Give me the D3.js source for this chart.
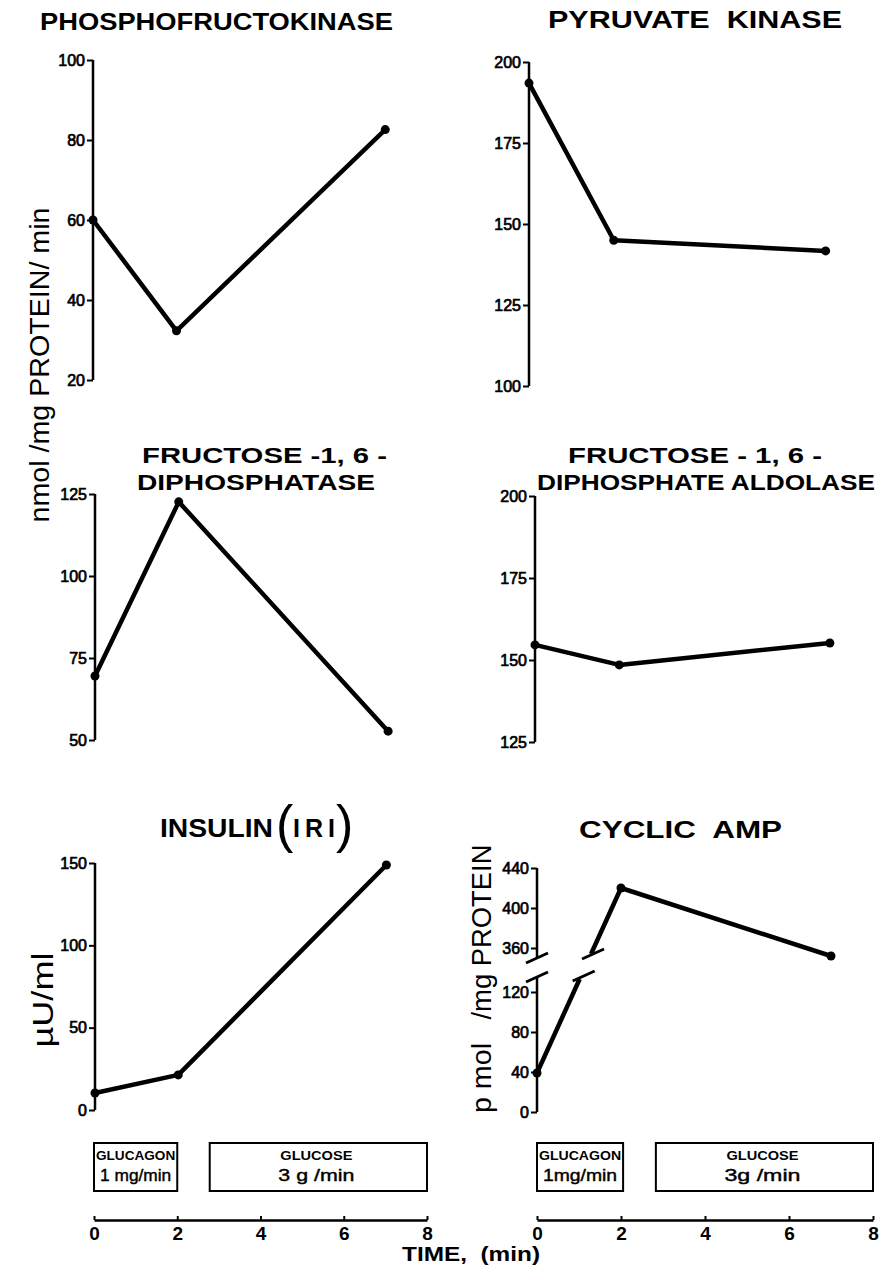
<!DOCTYPE html>
<html>
<head>
<meta charset="utf-8">
<script src="https://cdn.jsdelivr.net/npm/d3@7"></script>
<style>
  body { margin: 0; background: #fff; }
  svg { display: block; background: #fff; }
  text { font-family: "Liberation Sans", Arial, sans-serif; fill: #000; }
</style>
</head>
<body>
<div id="chart"></div>
<script>
// sampling times (min)
const times = [0, 2, 7];

// enzyme activities, nmol/mg protein/min
const phosphofructokinase = [60, 32.3, 82.6];
const pyruvateKinase = [193.5, 145, 141.7];
const fructoseDiphosphatase = [69.5, 122.6, 52.7];
const diphosphateAldolase = [154.6, 148.5, 155.2];

// insulin (µU/ml) and cyclic AMP (pmol/mg protein)
const insulin = [10.3, 21.3, 148.8];
const cyclicAmp = [39, 420, 352];

// tick labels
const pfkTicks = [20, 40, 60, 80, 100];
const pkTicks = [100, 125, 150, 175, 200];
const fdpTicks = [50, 75, 100, 125];
const aldTicks = [125, 150, 175, 200];
const insulinTicks = [0, 50, 100, 150];
const campTicks = [0, 40, 80, 120, 360, 400, 440];
const timeTicks = [0, 2, 4, 6, 8];

// infusions: label, dose, start, end (min)
const infusionNames = ["GLUCAGON", "GLUCOSE"];
const infusionDoseLeft = ["1 mg/min", "3 g /min"];
const infusionDoseRight = ["1mg/min", "3g /min"];
const infusionStartLeft = [0, 2.78];
const infusionEndLeft = [2, 8];
const infusionStartRight = [0, 2.83];
const infusionEndRight = [2.05, 8];

const W = 881, H = 1269;

const svg = d3.select("#chart").append("svg")
    .attr("width", W)
    .attr("height", H);

// layout of the six panels
const panels = [
    {values: phosphofructokinase, ticks: pfkTicks, domain: [20, 100], yRange: [380, 60], xRange: [93, 427],
     titles: [{t: "PHOSPHOFRUCTOKINASE", x0: 40, x1: 393, y: 30, s: 24}]},
    {values: pyruvateKinase, ticks: pkTicks, domain: [100, 200], yRange: [386, 62], xRange: [529, 868],
     titles: [{t: "PYRUVATE  KINASE", x0: 548, x1: 842, y: 28, s: 24}]},
    {values: fructoseDiphosphatase, ticks: fdpTicks, domain: [50, 125], yRange: [740, 494], xRange: [95, 430],
     titles: [{t: "FRUCTOSE -1, 6 -", x0: 142, x1: 387, y: 463, s: 22},
              {t: "DIPHOSPHATASE", x0: 137, x1: 375, y: 490, s: 22}]},
    {values: diphosphateAldolase, ticks: aldTicks, domain: [125, 200], yRange: [742, 496], xRange: [535, 872],
     titles: [{t: "FRUCTOSE - 1, 6 -", x0: 568, x1: 822, y: 463, s: 22},
              {t: "DIPHOSPHATE ALDOLASE", x0: 537, x1: 875, y: 490, s: 22}]},
    {values: insulin, ticks: insulinTicks, domain: [0, 150], yRange: [1110, 863], xRange: [95, 428],
     titles: []},
    {values: cyclicAmp, ticks: campTicks, domain: [0, 135, 350, 440], yRange: [1112, 977, 958, 868], xRange: [537, 873],
     titles: [{t: "CYCLIC  AMP", x0: 579, x1: 782, y: 838, s: 24}], broken: true}
];

function styleAxis(a, size) {
    a.selectAll(".tick line").attr("stroke", "#000").attr("stroke-width", 2);
    a.selectAll(".tick text")
        .attr("font-size", size)
        .attr("font-family", "Liberation Sans, Arial, sans-serif")
        .attr("fill", "#000")
        .attr("stroke", "#000")
        .attr("stroke-width", 0.7);
}

function slash(g, cx, cy) {
    g.append("line")
        .attr("x1", cx - 11).attr("y1", cy + 5)
        .attr("x2", cx + 11).attr("y2", cy - 5)
        .attr("stroke", "#000").attr("stroke-width", 3);
}

panels.forEach(p => {
    const g = svg.append("g");
    const x = d3.scaleLinear().domain([0, 8]).range(p.xRange);
    const y = d3.scaleLinear().domain(p.domain).range(p.yRange);
    const x0 = x(0);

    // ticks + labels
    g.append("g")
        .attr("transform", `translate(${x0},0)`)
        .call(d3.axisLeft(y).tickValues(p.ticks).tickSize(6).tickSizeOuter(0).tickPadding(2))
        .call(a => a.select(".domain").remove())
        .call(a => styleAxis(a, 16));

    const pts = p.values.map((v, i) => [x(times[i]), y(v)]);

    if (!p.broken) {
        g.append("line")
            .attr("x1", x0).attr("x2", x0)
            .attr("y1", y(p.domain[0])).attr("y2", y(p.domain[p.domain.length - 1]))
            .attr("stroke", "#000").attr("stroke-width", 2.5);

        g.append("path")
            .datum(pts)
            .attr("d", d3.line())
            .attr("fill", "none")
            .attr("stroke", "#000")
            .attr("stroke-width", 4.5)
            .attr("stroke-linejoin", "round");
    } else {
        const yLow = y(p.domain[1]), yHigh = y(p.domain[2]);
        // two axis pieces
        g.append("line")
            .attr("x1", x0).attr("x2", x0)
            .attr("y1", y(0)).attr("y2", yLow)
            .attr("stroke", "#000").attr("stroke-width", 2.5);
        g.append("line")
            .attr("x1", x0).attr("x2", x0)
            .attr("y1", yHigh).attr("y2", y(440))
            .attr("stroke", "#000").attr("stroke-width", 2.5);
        slash(g, x0, yLow);
        slash(g, x0, yHigh);

        // split the rising segment at the break
        const a = pts[0], b = pts[1];
        const at = yy => [a[0] + (b[0] - a[0]) * (a[1] - yy) / (a[1] - b[1]), yy];
        const pLow = at(yLow + 2), pHigh = at(yHigh - 4);
        [[a, pLow], [pHigh, b, pts[2]]].forEach(seg => {
            g.append("path")
                .datum(seg)
                .attr("d", d3.line())
                .attr("fill", "none")
                .attr("stroke", "#000")
                .attr("stroke-width", 4.5)
                .attr("stroke-linejoin", "round");
        });
        slash(g, pLow[0] + 4, pLow[1] - 3);
        slash(g, pHigh[0] + 2, pHigh[1]);
    }

    g.selectAll("circle")
        .data(pts)
        .enter()
        .append("circle")
        .attr("cx", d => d[0])
        .attr("cy", d => d[1])
        .attr("r", 4.5)
        .attr("fill", "#000");

    p.titles.forEach(t => {
        g.append("text")
            .attr("x", t.x0)
            .attr("y", t.y)
            .attr("font-size", t.s)
            .attr("font-weight", "bold")
            .attr("textLength", t.x1 - t.x0)
            .attr("lengthAdjust", "spacingAndGlyphs")
            .style("white-space", "pre")
            .text(t.t);
    });
});

// INSULIN (IRI) title with tall parentheses
const ins = svg.append("g");
ins.append("text").attr("x", 160).attr("y", 837).attr("font-size", 25).attr("font-weight", "bold")
    .attr("textLength", 113).attr("lengthAdjust", "spacingAndGlyphs").text("INSULIN");
ins.append("text").attr("x", 276).attr("y", 842).attr("font-size", 52).text("(");
ins.append("text").attr("x", 293).attr("y", 837).attr("font-size", 25).attr("font-weight", "bold")
    .attr("textLength", 42).attr("lengthAdjust", "spacing").text("IRI");
ins.append("text").attr("x", 336).attr("y", 842).attr("font-size", 52).text(")");

// y-axis titles
svg.append("text")
    .attr("transform", "translate(49,365) rotate(-90)")
    .attr("text-anchor", "middle")
    .attr("font-size", 28)
    .attr("textLength", 315)
    .attr("lengthAdjust", "spacingAndGlyphs")
    .text("nmol /mg PROTEIN/ min");

svg.append("text")
    .attr("transform", "translate(53,1000) rotate(-90)")
    .attr("text-anchor", "middle")
    .attr("font-size", 30)
    .attr("textLength", 95)
    .attr("lengthAdjust", "spacingAndGlyphs")
    .text("\u00b5U/ml");

svg.append("text")
    .attr("transform", "translate(491,1078) rotate(-90)")
    .attr("text-anchor", "middle")
    .attr("font-size", 28)
    .attr("textLength", 70)
    .attr("lengthAdjust", "spacingAndGlyphs")
    .text("p mol");

svg.append("text")
    .attr("transform", "translate(491,932) rotate(-90)")
    .attr("text-anchor", "middle")
    .attr("font-size", 28)
    .attr("textLength", 175)
    .attr("lengthAdjust", "spacingAndGlyphs")
    .text("/mg PROTEIN");

// infusion boxes and time axes
const columns = [
    {range: [94, 427], starts: infusionStartLeft, ends: infusionEndLeft, doses: infusionDoseLeft},
    {range: [537, 873], starts: infusionStartRight, ends: infusionEndRight, doses: infusionDoseRight}
];

columns.forEach(c => {
    const x = d3.scaleLinear().domain([0, 8]).range(c.range);
    const g = svg.append("g");

    infusionNames.forEach((name, i) => {
        const bx0 = x(c.starts[i]), bx1 = x(c.ends[i]);
        g.append("rect")
            .attr("x", bx0).attr("y", 1143)
            .attr("width", bx1 - bx0).attr("height", 48)
            .attr("fill", "none").attr("stroke", "#000").attr("stroke-width", 2);
        const cx = i === 0 ? (bx0 + bx1) / 2 : (bx0 + bx1) / 2 - 2;
        g.append("text")
            .attr("x", cx).attr("y", 1160)
            .attr("text-anchor", "middle")
            .attr("font-size", 12.5).attr("font-weight", "bold")
            .attr("textLength", i === 0 ? (bx1 - bx0 - 4) : 72)
            .attr("lengthAdjust", "spacingAndGlyphs")
            .text(name);
        g.append("text")
            .attr("x", cx).attr("y", 1181)
            .attr("text-anchor", "middle")
            .attr("font-size", 16)
            .attr("stroke", "#000").attr("stroke-width", 0.4)
            .attr("textLength", i === 0 ? (bx1 - bx0 - 12) : 76)
            .attr("lengthAdjust", "spacingAndGlyphs")
            .style("white-space", "pre")
            .text(c.doses[i]);
    });

    g.append("g")
        .attr("transform", "translate(0,1220)")
        .call(d3.axisBottom(x).tickValues(timeTicks).tickSize(-4).tickSizeOuter(0).tickPadding(7))
        .call(a => a.select(".domain").attr("stroke", "#000").attr("stroke-width", 2.5))
        .call(a => {
            a.selectAll(".tick line").attr("stroke", "#000").attr("stroke-width", 2);
            a.selectAll(".tick text")
                .attr("font-size", 19)
                .attr("font-weight", "bold")
                .attr("font-family", "Liberation Sans, Arial, sans-serif")
                .attr("fill", "#000");
        });
});

svg.append("text")
    .attr("x", 402).attr("y", 1261)
    .attr("font-size", 20).attr("font-weight", "bold")
    .attr("textLength", 138)
    .attr("lengthAdjust", "spacingAndGlyphs")
    .style("white-space", "pre")
    .text("TIME,  (min)");
</script>
</body>
</html>
